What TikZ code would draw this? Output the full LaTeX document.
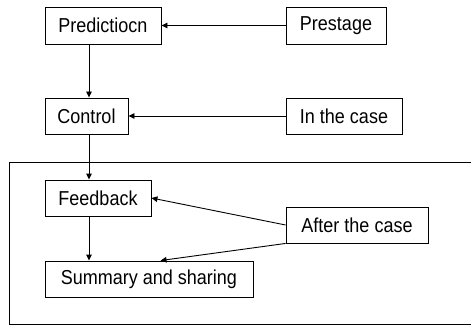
\documentclass[tikz,border=0pt]{standalone}
\usepackage{fontspec}
\setmainfont{Liberation Sans}
\usetikzlibrary{arrows.meta,calc}
\newcommand\mytx[1]{\scalebox{1}[1.12]{#1}}
\begin{document}
\begin{tikzpicture}[x=1pt,y=-1pt,
  box/.style={draw=black,line width=0.9pt,inner sep=0pt,minimum height=36pt,font=\fontsize{18}{20}\selectfont},
  arr/.style={line width=0.9pt,-{Triangle[length=6pt,width=5.5pt]}}]
\useasboundingbox (0,0) rectangle (471,326);
\draw[line width=0.9pt] (480,162) -- (9,162) -- (9,324) -- (480,324);
\node[box,minimum width=116pt,minimum height=37pt] (pred) at (103,25.5) {\mytx{Predictiocn}};
\node[box,minimum width=100pt,minimum height=37pt] (pre) at (336,25.5) {\mytx{Prestage}};
\node[box,minimum width=83pt] (ctrl) at (86.5,116) {\mytx{Control}};
\node[box,minimum width=116pt] (inc) at (344,116) {\mytx{In the case}};
\node[box,minimum width=106pt] (fb) at (98,198) {\mytx{Feedback}};
\node[box,minimum width=142pt] (after) at (357,225) {\mytx{After the case}};
\node[box,minimum width=208pt] (sum) at (149,279) {\mytx{Summary and sharing}};
\coordinate (vx) at (89,0);
\draw[arr] (pre.west) -- (pred.east);
\draw[arr] (inc.west) -- (ctrl.east);
\draw[arr] (pred.south -| vx) -- (ctrl.north -| vx);
\draw[arr] (ctrl.south -| vx) -- (fb.north -| vx);
\draw[arr] (fb.south -| vx) -- (sum.north -| vx);
\draw[arr] (after.west) -- (fb.east);
\draw[arr] (after.south west) -- ($(sum.north west)+(116,0)$);
\end{tikzpicture}
\end{document}
